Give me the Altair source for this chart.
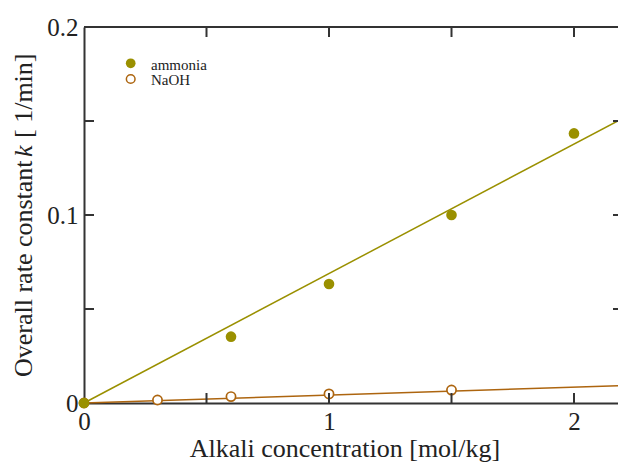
import altair as alt
import pandas as pd

# Measured rate constants
conc_ammonia = [0.0, 0.6, 1.0, 1.5, 2.0]
k_ammonia = [0.0, 0.0353, 0.0633, 0.100, 0.1434]
conc_naoh = [0.0, 0.3, 0.6, 1.0, 1.5]
k_naoh = [0.0, 0.0016, 0.0034, 0.0048, 0.0069]

# Linear fits through the origin (end points)
fit_conc = [0.0, 2.2]
fit_ammonia = [0.0, 0.1515]
fit_naoh = [0.0, 0.0093]

# Tick positions
x_label_values = [0, 1, 2]
y_label_values = [0, 0.1, 0.2]
x_inner_ticks = [0.5, 1.0, 1.5, 2.0]
y_inner_ticks = [0.05, 0.1, 0.15]

series_names = ["ammonia", "NaOH"]
OLIVE = "#9a9000"
BROWN = "#ad650f"
INK = "#222222"
FRAME = "#333333"
SERIF = "Liberation Serif"

W, H = 534, 376

xs = alt.Scale(domain=[0, 2.2], range=[0, 539], nice=False, zero=False)
ys = alt.Scale(domain=[0, 0.2], nice=False, zero=False)
x_axis = alt.Axis(values=x_label_values, format="d", title=None, ticks=False,
                  labelFlush=False, labelPadding=6, labelOverlap=False)
y_axis = alt.Axis(values=y_label_values, format=".1~f", title=None, ticks=False,
                  labelPadding=6, labelOverlap=False)

X = lambda: alt.X("x:Q", scale=xs, axis=x_axis)
Y = lambda: alt.Y("y:Q", scale=ys, axis=y_axis)

fits = pd.DataFrame({
    "x": fit_conc * 2,
    "y": fit_ammonia + fit_naoh,
    "series": [series_names[0]] * 2 + [series_names[1]] * 2,
})
amm = pd.DataFrame({"x": conc_ammonia, "y": k_ammonia})
naoh = pd.DataFrame({"x": conc_naoh, "y": k_naoh})

fit_lines = alt.Chart(fits).mark_line(strokeWidth=1.5).encode(
    x=X(), y=Y(),
    color=alt.Color("series:N", scale=alt.Scale(domain=series_names, range=[OLIVE, BROWN]),
                    legend=None),
    detail="series:N",
)

naoh_pts = alt.Chart(naoh).mark_point(
    shape="circle", size=85, fill="white", stroke=BROWN, strokeWidth=1.7, opacity=1, filled=False
).encode(x=X(), y=Y())

amm_pts = alt.Chart(amm).mark_circle(size=113, color=OLIVE, opacity=1).encode(x=X(), y=Y())

# Inward ticks on all four sides
xt = pd.DataFrame({"x": x_inner_ticks})
yt = pd.DataFrame({"y": y_inner_ticks})
tick_style = dict(color=FRAME, strokeWidth=2)
bottom_ticks = alt.Chart(xt).mark_rule(**tick_style).encode(
    x=X(), y=alt.value(H), y2=alt.value(H - 10))
top_ticks = alt.Chart(xt).mark_rule(**tick_style).encode(
    x=X(), y=alt.value(0), y2=alt.value(10))
left_ticks = alt.Chart(yt).mark_rule(**tick_style).encode(
    y=Y(), x=alt.value(0), x2=alt.value(10))
right_ticks = alt.Chart(yt).mark_rule(**tick_style).encode(
    y=Y(), x=alt.value(529), x2=alt.value(539))
top_frame = alt.Chart(pd.DataFrame({"y": [0.2]})).mark_rule(**tick_style).encode(
    y=Y(), x=alt.value(0), x2=alt.value(539))


def label(text, x, y, size, angle=0, align="left", style="normal", color=INK):
    return alt.Chart(pd.DataFrame({"t": [text]})).mark_text(
        font=SERIF, fontSize=size, angle=angle, align=align, baseline="alphabetic",
        fontStyle=style, color=color,
    ).encode(text="t:N", x=alt.value(x), y=alt.value(y))


# Axis titles (y title with italic k)
title_size = 26
y_title = [
    label("Overall rate constant", -52, 350, title_size, angle=270),
    label("k", -52, 130, title_size, angle=270, style="italic"),
    label("[\u00a01/min]", -52, 111, title_size, angle=270),
]
x_title = label("Alkali concentration [mol/kg]", 261, 430, 26, align="center")

# Legend
leg_amm = alt.Chart(pd.DataFrame({"t": [series_names[0]]})).mark_circle(
    size=95, color=OLIVE, opacity=1
).encode(x=alt.value(46.7), y=alt.value(36.3))
leg_naoh = alt.Chart(pd.DataFrame({"t": [series_names[1]]})).mark_point(
    shape="circle", size=75, fill="white", stroke=BROWN, strokeWidth=1.5, opacity=1, filled=False
).encode(x=alt.value(46.7), y=alt.value(52))
leg_text = [
    label(series_names[0], 67, 42.5, 15),
    label(series_names[1], 67, 58, 15),
]

chart = alt.layer(
    fit_lines, naoh_pts, amm_pts,
    bottom_ticks, top_ticks, left_ticks, right_ticks, top_frame,
    *y_title, x_title, leg_amm, leg_naoh, *leg_text,
).properties(
    width=W, height=H,
    autosize=alt.AutoSizeParams(type="none"),
    padding={"left": 84, "top": 27, "right": 0, "bottom": 59},
    background="white",
).configure_view(stroke=None).configure_axis(
    grid=False, domainColor=FRAME, domainWidth=2,
    labelFont=SERIF, labelFontSize=25, labelColor=INK,
)

chart.save("out.html", embed_options={"renderer": "svg", "actions": False})
